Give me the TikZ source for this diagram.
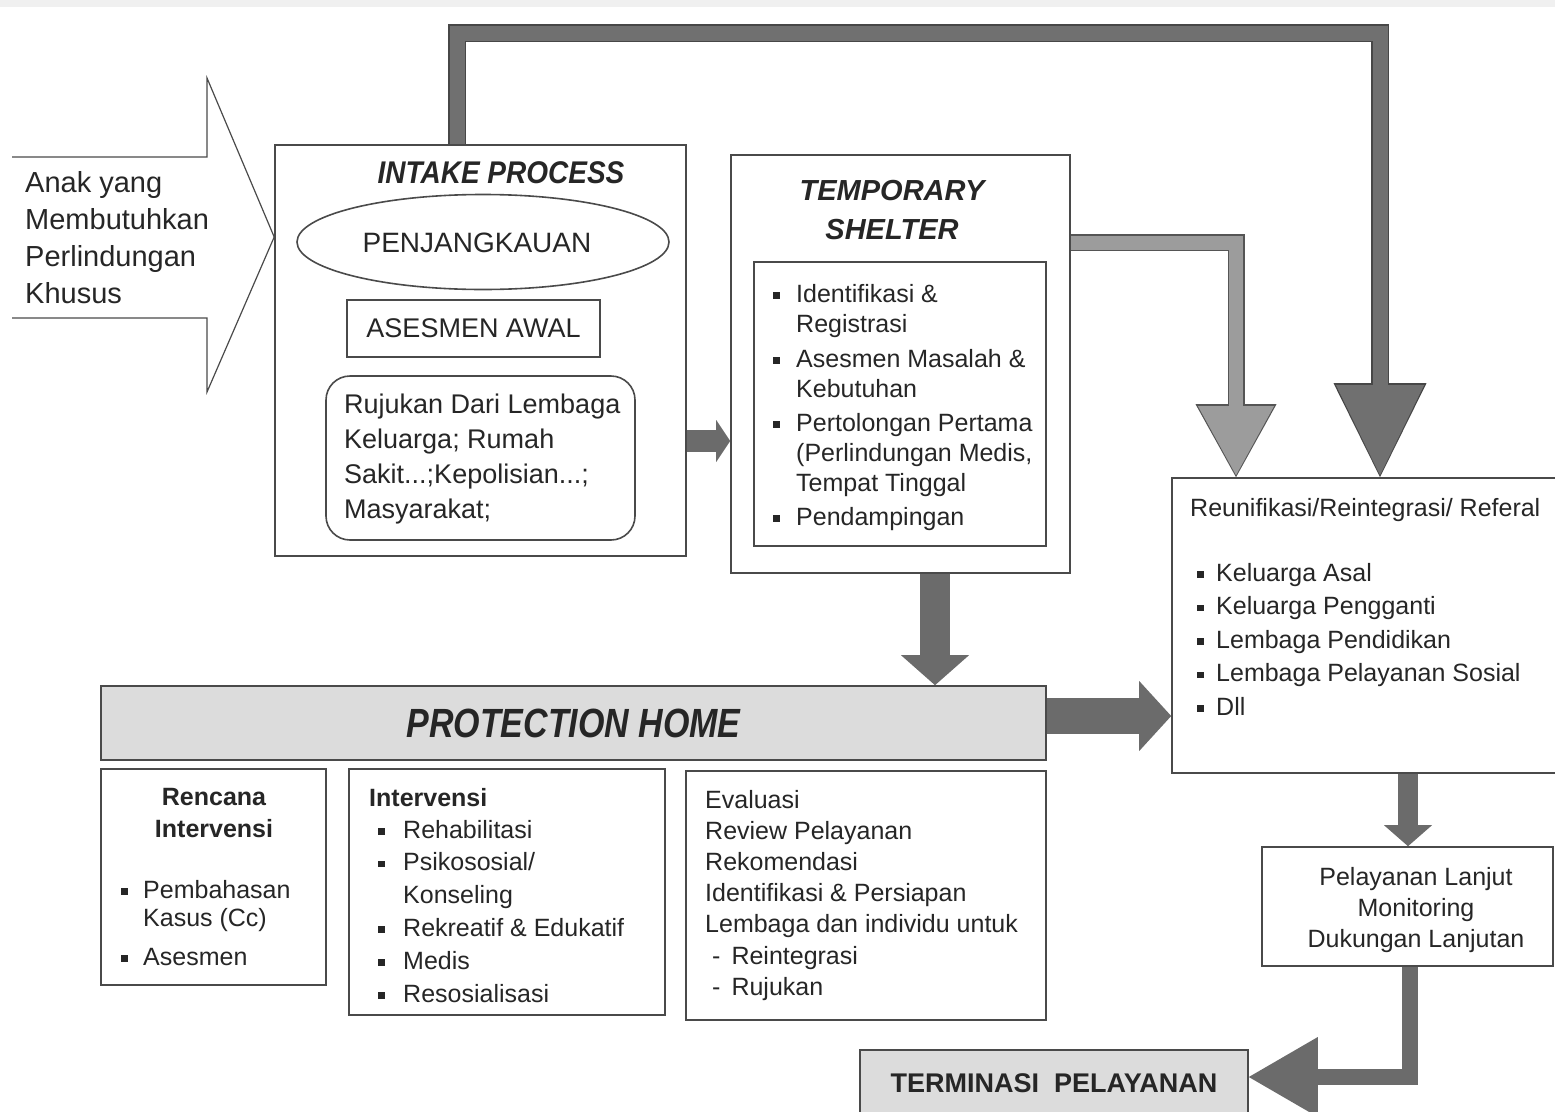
\documentclass[tikz,border=0pt]{standalone}
\usepackage{fontspec}
\usepackage{graphicx}
\setmainfont{Liberation Sans}
\usetikzlibrary{shapes.geometric,arrows.meta}
\definecolor{ink}{HTML}{262626}
\definecolor{frame}{HTML}{4A4A4A}
\definecolor{darkarr}{HTML}{707070}
\definecolor{darkrim}{HTML}{474747}
\definecolor{lightarr}{HTML}{9C9C9C}
\definecolor{lightrim}{HTML}{555555}
\definecolor{midarr}{HTML}{6B6B6B}
\definecolor{panel}{HTML}{DCDCDC}
\definecolor{topband}{HTML}{F0F0F0}
\newcommand{\sqb}{\rule[3.5pt]{6.5pt}{6.5pt}}
\begin{document}
\begin{tikzpicture}[x=1pt,y=-1pt,
  box/.style={draw=frame,line width=1.6pt,fill=white,inner sep=0pt},
  txt/.style={text=ink,inner sep=0pt,anchor=base west,font=\fontsize{25}{30}\selectfont},
  ctxt/.style={txt,anchor=base},
  headtxt/.style={text=ink,inner sep=0pt,font=\bfseries\itshape\fontsize{28}{34}\selectfont},
  looparr/.style={draw=darkarr,line width=15pt,shorten >=2pt,
    -{Triangle[length=90pt,width=88pt,line width=0pt]},
    preaction={draw=darkrim,line width=18pt,shorten >=0pt,
      -{Triangle[length=94pt,width=93pt,line width=0pt]}}},
  sidearr/.style={draw=lightarr,line width=14pt,shorten >=2pt,
    -{Triangle[length=69pt,width=76pt,line width=0pt]},
    preaction={draw=lightrim,line width=17pt,shorten >=0pt,
      -{Triangle[length=73pt,width=81pt,line width=0pt]}}},
  fat/.style={draw=midarr,line width=#1}]
\useasboundingbox (0,0) rectangle (1555,1111);
\fill[topband] (0,0) rectangle (1555,7);

\node[box,minimum width=411,minimum height=411] (intake) at (480.5,350.5) {};
\node[headtxt] (intaketitle) at (501,173) {\scalebox{1}[1.12]{INTAKE PROCESS}};
\node[box,ellipse,minimum width=372,minimum height=95] (reach) at (483,242) {};
\node[text=ink,inner sep=0pt,font=\fontsize{28}{34}\selectfont] (reachtxt) at (477,243) {PENJANGKAUAN};
\node[box,minimum width=253,minimum height=57,text=ink,font=\fontsize{27}{32}\selectfont] (asesmen) at (473.5,328.5) {ASESMEN AWAL};
\node[box,rounded corners=24pt,minimum width=309,minimum height=164] (referral) at (480.5,458) {};
\node[txt,font=\fontsize{27}{35}\selectfont] (referraltxt) at (344,413) {\begin{tabular}[t]{@{}l@{}}
Rujukan Dari Lembaga\\ Keluarga; Rumah\\ Sakit...;Kepolisian...;\\ Masyarakat;\end{tabular}};

\draw[frame,line width=1.2pt] (12,157) -- (207,157) -- (207,78) -- (intake.west |- 0,237) -- (207,392) -- (207,318) -- (12,318);
\node[txt,font=\fontsize{29}{37}\selectfont] (anak) at (25,192) {\begin{tabular}[t]{@{}l@{}}
Anak yang\\ Membutuhkan\\ Perlindungan\\ Khusus\end{tabular}};

\node[box,minimum width=339,minimum height=418] (shelter) at (900.5,364) {};
\node[headtxt,anchor=base,font=\bfseries\itshape\fontsize{29}{39}\selectfont] (sheltertitle) at (892,200.5) {\begin{tabular}[t]{@{}c@{}}TEMPORARY\\ SHELTER\end{tabular}};
\node[box,minimum width=292,minimum height=284] (shelterbox) at (900,404) {};
\node[txt] (shelterlist) at (773,302) {\begin{tabular}[t]{@{}l@{\hspace{16.5pt}}l@{}}
\sqb & Identifikasi \&\\
    & Registrasi\\[5pt]
\sqb & Asesmen Masalah \&\\
    & Kebutuhan\\[4pt]
\sqb & Pertolongan Pertama\\
    & (Perlindungan Medis,\\
    & Tempat Tinggal\\[4pt]
\sqb & Pendampingan
\end{tabular}};

\node[box,minimum width=390,minimum height=295] (reun) at (1367,625.5) {};
\node[txt] (reuntitle) at (1190,516) {Reunifikasi/Reintegrasi/ Referal};
\node[txt,font=\fontsize{25}{33.5}\selectfont] (reunlist) at (1197,581) {\begin{tabular}[t]{@{}l@{\hspace{12.5pt}}l@{}}
\sqb & Keluarga Asal\\
\sqb & Keluarga Pengganti\\
\sqb & Lembaga Pendidikan\\
\sqb & Lembaga Pelayanan Sosial\\
\sqb & Dll
\end{tabular}};

\node[box,fill=panel,minimum width=945,minimum height=74,text=ink,font=\bfseries\itshape\fontsize{34}{40}\selectfont] (home) at (573.5,723) {\scalebox{1}[1.2]{PROTECTION HOME}};

\node[box,minimum width=225,minimum height=216] (plan) at (213.5,877) {};
\node[ctxt,font=\bfseries\fontsize{25}{32}\selectfont] (plantitle) at (214,805) {\begin{tabular}[t]{@{}c@{}}Rencana\\ Intervensi\end{tabular}};
\node[txt,font=\fontsize{25}{28}\selectfont] (planlist) at (121,898) {\begin{tabular}[t]{@{}l@{\hspace{15.5pt}}l@{}}
\sqb & Pembahasan\\
    & Kasus (Cc)\\[11pt]
\sqb & Asesmen
\end{tabular}};

\node[box,minimum width=316,minimum height=246] (intv) at (507,892) {};
\node[txt,font=\bfseries\fontsize{25}{32}\selectfont] (intvtitle) at (369,806) {Intervensi};
\node[txt,font=\fontsize{25}{32.8}\selectfont] (intvlist) at (378,838) {\begin{tabular}[t]{@{}l@{\hspace{18.5pt}}l@{}}
\sqb & Rehabilitasi\\
\sqb & Psikososial/\\
    & Konseling\\
\sqb & Rekreatif \& Edukatif\\
\sqb & Medis\\
\sqb & Resosialisasi
\end{tabular}};

\node[box,minimum width=360,minimum height=249] (eval) at (866,895.5) {};
\node[txt,font=\fontsize{25}{31.2}\selectfont] (evallist) at (705,808) {\begin{tabular}[t]{@{}l@{}}
Evaluasi\\ Review Pelayanan\\ Rekomendasi\\ Identifikasi \& Persiapan\\ Lembaga dan individu untuk\\
\hspace*{7pt}-\hspace{11pt}Reintegrasi\\ \hspace*{7pt}-\hspace{11pt}Rujukan
\end{tabular}};

\node[box,minimum width=291,minimum height=119] (follow) at (1407.5,906.5) {};
\node[ctxt,font=\fontsize{25}{31}\selectfont] (followtxt) at (1416,885) {\begin{tabular}[t]{@{}c@{}}
Pelayanan Lanjut\\ Monitoring\\ Dukungan Lanjutan\end{tabular}};

\node[box,fill=panel,minimum width=388,minimum height=66,text=ink,font=\bfseries\fontsize{27}{32}\selectfont] (term) at (1054,1083) {TERMINASI\ \ PELAYANAN};

\draw[looparr] (intake.north -| 457,0) |- (1380,33) -- (1380,0 |- reun.north);
\draw[sidearr] (shelter.east |- 0,242.5) -| (1236,0 |- reun.north);
\draw[fat=22pt,-{Triangle[length=14pt,width=42pt,line width=0pt]}] (intake.east |- 0,441) -- (shelter.west |- 0,441);
\draw[fat=30pt,-{Triangle[length=30pt,width=68pt,line width=0pt]}] (shelter.south -| 935,0) -- (home.north -| 935,0);
\draw[fat=36pt,-{Triangle[length=32pt,width=70pt,line width=0pt]}] (home.east |- 0,716) -- (reun.west |- 0,716);
\draw[fat=20pt,-{Triangle[length=21pt,width=48pt,line width=0pt]}] (reun.south -| 1408,0) -- (follow.north -| 1408,0);
\draw[fat=16pt,-{Triangle[length=69pt,width=80pt,line width=0pt]}] (follow.south -| 1410,0) |- (term.east |- 0,1077);
\end{tikzpicture}
\end{document}
